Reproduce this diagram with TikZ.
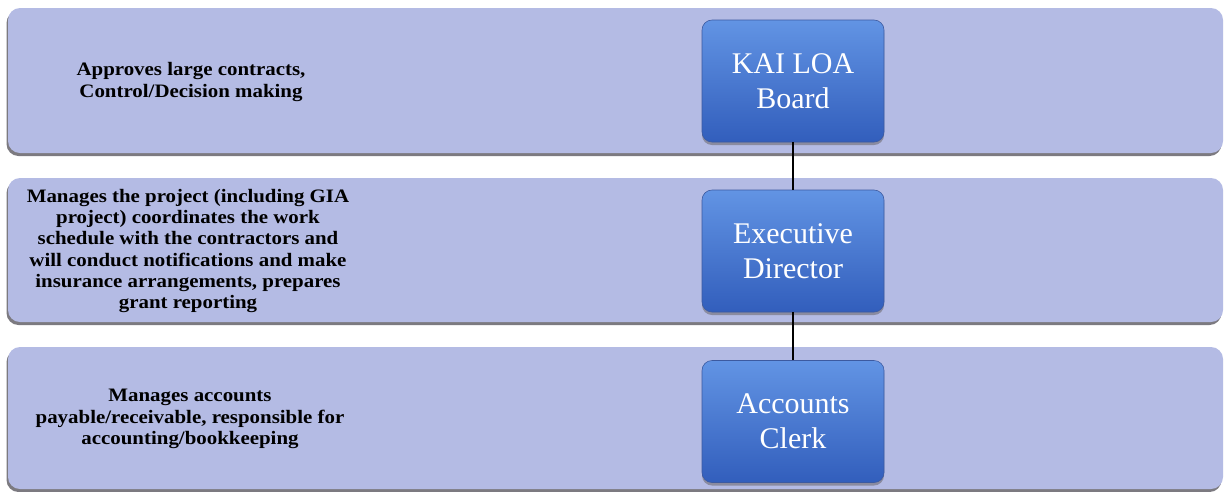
\documentclass[tikz,border=0pt]{standalone}
\usepackage{fontspec}
\setmainfont{Liberation Serif}
\newfontfamily\descfont{Liberation Serif}[FakeStretch=1.1]
\usetikzlibrary{shadows}
\definecolor{bandfill}{RGB}{180,187,228}
\definecolor{bandshadow}{RGB}{110,108,115}
\definecolor{boxtop}{RGB}{98,148,228}
\definecolor{boxbot}{RGB}{50,94,188}
\definecolor{boxedge}{RGB}{60,90,160}
\tikzset{
  band/.style={fill=bandfill, rounded corners=12pt, draw=none, inner sep=0pt,
    drop shadow={shadow xshift=-1.5pt, shadow yshift=-3pt, fill=bandshadow, opacity=0.9}},
  role/.style={rounded corners=10pt, top color=boxtop, bottom color=boxbot, draw=boxedge,
    line width=0.6pt, minimum width=182pt, minimum height=122pt, text=white,
    font=\fontsize{30}{35}\selectfont, align=center, inner sep=0pt,
    drop shadow={shadow xshift=0pt, shadow yshift=-3pt, fill=bandshadow, opacity=0.6}},
  desc/.style={font=\descfont\bfseries\fontsize{19}{21.3}\selectfont, align=center, text=black, inner sep=0pt},
  link/.style={line width=1.5pt, black}
}
\begin{document}
\begin{tikzpicture}[x=1pt,y=-1pt]
\useasboundingbox[fill=white] (0,0) rectangle (1228,491);
% bands
\node[band, minimum width=1215pt, minimum height=145pt] (b1) at (615.5,80.5) {};
\node[band, minimum width=1215pt, minimum height=144pt] (b2) at (615.5,250) {};
\node[band, minimum width=1215pt, minimum height=142pt] (b3) at (615.5,418) {};
% descriptions
\node[desc] (d1) at (191,82) {Approves large contracts,\\Control/Decision making};
\node[desc] (d2) at (188,251) {Manages the project (including GIA\\project) coordinates the work\\schedule with the contractors and\\will conduct notifications and make\\insurance arrangements, prepares\\grant reporting};
\node[desc] (d3) at (190,419) {Manages accounts\\payable/receivable, responsible for\\accounting/bookkeeping};
% roles
\node[role] (kai) at (793,81) {KAI LOA\\Board};
\node[role] (exec) at (793,251) {Executive\\Director};
\node[role] (clerk) at (793,421.5) {Accounts\\Clerk};
% connectors
\draw[link] (kai.south) -- (exec.north);
\draw[link] (exec.south) -- (clerk.north);
\end{tikzpicture}
\end{document}
